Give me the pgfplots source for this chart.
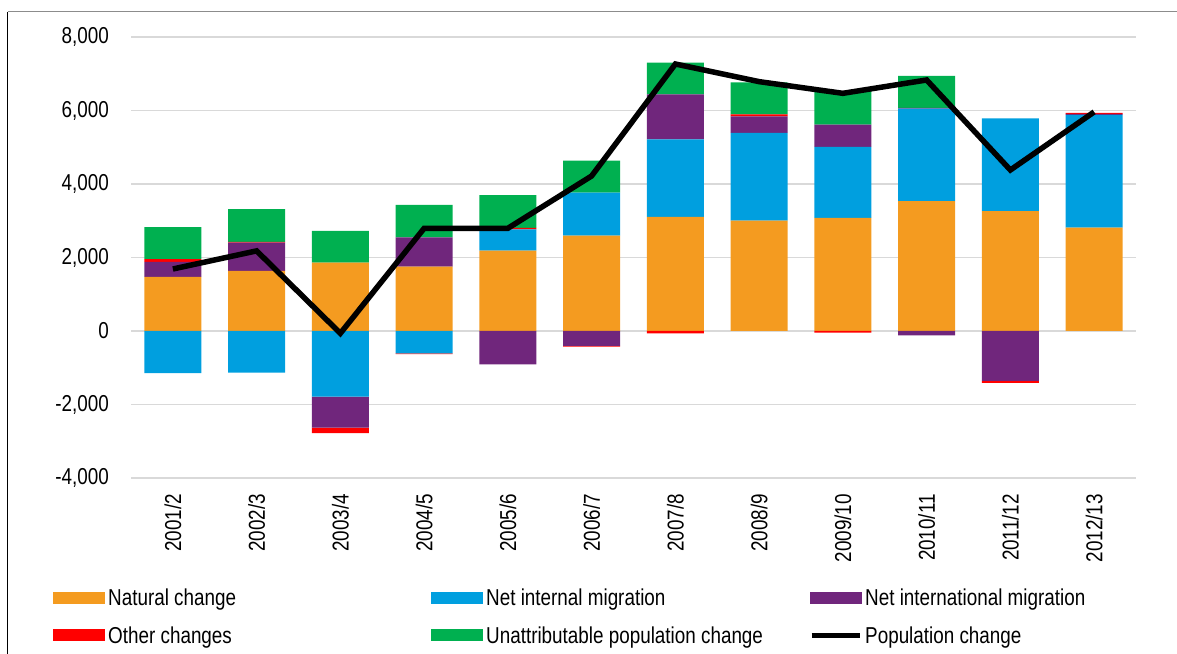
\documentclass[border=0pt]{standalone}
\usepackage{fontspec}
\setmainfont{Liberation Sans}[FakeStretch=0.82]
\usepackage{pgfplots}
\usepackage{pgfplotstable}
\pgfplotsset{compat=1.18}
\definecolor{natc}{HTML}{F49B20}
\definecolor{intc}{HTML}{009FDF}
\definecolor{intlc}{HTML}{70267C}
\definecolor{othc}{HTML}{FF0000}
\definecolor{unac}{HTML}{00B050}
\definecolor{gridc}{HTML}{D9D9D9}

% positive components
\pgfplotstableread{
x nat intp intlp othp una
0  1470 0    408  80 870
1  1633 0    770  20 890
2  1859 0    0    0  862
3  1750 0    800  0  880
4  2185 582  0    40 893
5  2594 1170 0    0  871
6  3102 2113 1226 0  860
7  3002 2386 453  55 871
8  3075 1932 608  0  915
9  3537 2512 20   0  870
10 3265 2522 0    0  0
11 2811 3067 30   30 0
}\postab
% negative components
\pgfplotstableread{
x intn intln othn
0  -1143 0     0
1  -1134 0     0
2  -1787 -844  -150
3  -607  0     -20
4  0     -907  0
5  0     -408  -20
6  0     0     -63
7  0     0     0
8  0     0     -45
9  0     -118  0
10 0     -1360 -55
11 0     0     0
}\negtab
% total population change
\pgfplotstableread{
x pop
0  1687
1  2180
2  -63
3  2794
4  2795
5  4218
6  7265
7  6785
8  6467
9  6830
10 4381
11 5960
}\poptab

\pgfplotsset{
  base/.style={
    scale only axis, width=1005bp, height=441bp,
    at={(131bp,176bp)}, anchor=south west,
    xmin=-0.5, xmax=11.5, ymin=-4000, ymax=8000,
  },
}
\newcommand{\lt}[1]{\hspace{3bp}\makebox[323bp][l]{#1}}

\begin{document}
\begin{tikzpicture}
\path[use as bounding box] (0,0) rectangle (1177bp,654bp);
\draw[black, line width=1.5bp] (7.5bp,0) -- (7.5bp,642bp);
\draw[black!45, line width=1bp] (7.5bp,642bp) -- (1177bp,642bp);

\begin{axis}[base,
  ybar stacked, bar width=0.68,
  axis line style={draw=none},
  major tick length=0pt,
  ymajorgrids, grid style={gridc, line width=1.5bp},
  ytick={-4000,-2000,0,2000,4000,6000,8000},
  yticklabels={{-4,000},{-2,000},{0},{2,000},{4,000},{6,000},{8,000}},
  xtick={0,1,2,3,4,5,6,7,8,9,10,11},
  xticklabels={2001/2,2002/3,2003/4,2004/5,2005/6,2006/7,2007/8,2008/9,2009/10,2010/11,2011/12,2012/13},
  tick label style={font=\fontsize{23bp}{27bp}\selectfont, inner sep=0pt},
  yticklabel style={anchor=east, xshift=-22bp},
  xticklabel style={rotate=90, anchor=east},
  xticklabel shift=16bp,
  legend columns=3,
  legend image code/.code={\fill[#1] (0bp,-6bp) rectangle (52bp,6bp);},
  legend style={at={(-0.0776,-0.2517)}, anchor=north west, draw=none, fill=none,
    font=\fontsize{23bp}{27bp}\selectfont, inner sep=0pt,
    nodes={inner sep=0pt, anchor=west},
    /tikz/column sep=0pt, /tikz/row sep=19bp},
  legend cell align=left,
]
\addplot[fill=natc, draw=none] table[x=x, y=nat] {\postab};
\addlegendentry{\lt{Natural change}}
\addplot[fill=intc, draw=none] table[x=x, y=intp] {\postab};
\addlegendentry{\lt{Net internal migration}}
\addplot[fill=intlc, draw=none] table[x=x, y=intlp] {\postab};
\addlegendentry{\lt{Net international migration}}
\addplot[fill=othc, draw=none] table[x=x, y=othp] {\postab};
\addlegendentry{\lt{Other changes}}
\addplot[fill=unac, draw=none] table[x=x, y=una] {\postab};
\addlegendentry{\lt{Unattributable population change}}
\addlegendimage{legend image code/.code={\draw[black, line width=5bp] (2bp,0bp) -- (50bp,0bp);}}
\addlegendentry{\lt{Population change}}
\end{axis}

\begin{axis}[base, ybar stacked, bar width=0.68, hide axis]
\addplot[fill=intc, draw=none] table[x=x, y=intn] {\negtab};
\addplot[fill=intlc, draw=none] table[x=x, y=intln] {\negtab};
\addplot[fill=othc, draw=none] table[x=x, y=othn] {\negtab};
\end{axis}

\begin{axis}[base, hide axis]
\addplot[black, line width=5.5bp, mark=none] table[x=x, y=pop] {\poptab};
\end{axis}
\end{tikzpicture}
\end{document}
